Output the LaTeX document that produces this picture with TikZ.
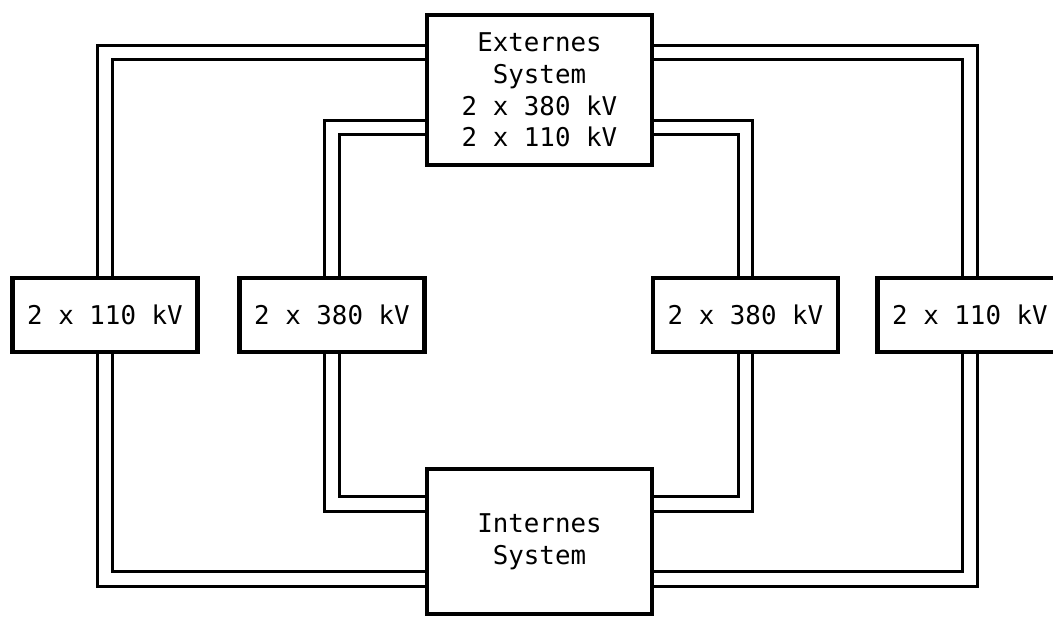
\documentclass[tikz,border=0pt]{standalone}
\usepackage{fontspec}
\setmonofont{DejaVu Sans Mono}
\usetikzlibrary{positioning, backgrounds}

\begin{document}
\begin{tikzpicture}[
    box/.style={draw, line width=2.8pt, outer sep=0pt, fill=white,
                minimum width=3.7cm, minimum height=1.48cm, align=center,
                font=\ttfamily\fontsize{14.7}{18}\selectfont},
    sysbox/.style={box, minimum width=4.5cm, minimum height=3cm},
    link/.style={line width=1.7pt, double, double distance=0.23cm}
  ]
    \useasboundingbox (0,0) rectangle (21.06,12.36);
    \clip (0,0) rectangle (21.06,12.36);

    %% Systems
    \node[sysbox] (ext) at (10.79,10.56)
      {Externes\\System\\2 x 380 kV\\2 x 110 kV};
    \node[sysbox, minimum height=2.9cm] (int) at (10.79,1.53)
      {Internes\\System};

    %% Line groups
    \node[box] (l380) at (6.64,6.06) {2 x 380 kV};
    \node[box, left=0.84cm of l380] (l110) {2 x 110 kV};
    \node[box] (r380) at (14.91,6.06) {2 x 380 kV};
    \node[box, right=0.79cm of r380] (r110) {2 x 110 kV};

    %% Double lines
    \begin{pgfonlayer}{background}
      \draw[link] ([yshift=0.75cm]ext.west)  -| (l110.north);
      \draw[link] ([yshift=-0.75cm]ext.west) -| (l380.north);
      \draw[link] ([yshift=0.75cm]ext.east)  -| (r110.north);
      \draw[link] ([yshift=-0.75cm]ext.east) -| (r380.north);
      \draw[link] (l110.south) |- ([yshift=-0.75cm]int.west);
      \draw[link] (l380.south) |- ([yshift=0.75cm]int.west);
      \draw[link] (r380.south) |- ([yshift=0.75cm]int.east);
      \draw[link] (r110.south) |- ([yshift=-0.75cm]int.east);
    \end{pgfonlayer}
  \end{tikzpicture}
\end{document}
